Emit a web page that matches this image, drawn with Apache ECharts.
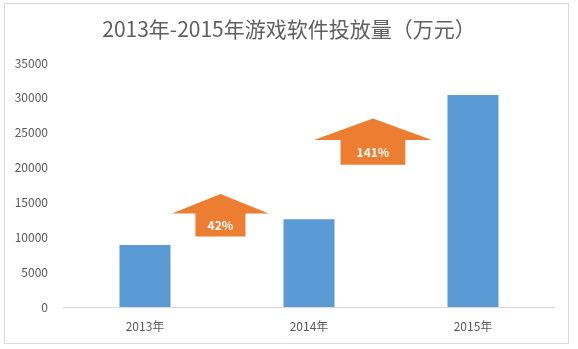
<!DOCTYPE html>
<html>
<head>
<meta charset="utf-8">
<script src="https://cdn.jsdelivr.net/npm/echarts@6/dist/echarts.min.js"></script>
<style>
html,body{margin:0;padding:0;background:#fff;}
#chart{width:578px;height:349px;}
</style>
</head>
<body>
<div id="chart"></div>
<script>
// ---- data ----
var categories = ['2013年', '2014年', '2015年'];
var values = [8900, 12600, 30400];
var yTicks = [0, 5000, 10000, 15000, 20000, 25000, 30000, 35000];
// growth annotations: starting category index, position between categories, bottom / head-base / tip values
var growthLabels = ['42%', '141%'];
var growthFromIndex = [0, 1];
var growthBetween = [0.46, 0.39];
var growthBottom = [10100, 20400];
var growthHeadBase = [13400, 23950];
var growthTip = [16200, 27050];

// ---- style (not data) ----
var arrowHeadFrac = [0.59, 0.72];
var arrowShaftFrac = [0.305, 0.395];
var textColor = '#595959';
var FONT = '"Noto Sans CJK SC", "Noto Sans", sans-serif';

var chart = echarts.init(document.getElementById('chart'));

var arrowData = growthLabels.map(function (lab, i) {
  return {value: [growthFromIndex[i], growthBottom[i], growthHeadBase[i], growthTip[i], growthBetween[i], i], name: lab};
});

chart.setOption({
  backgroundColor: '#ffffff',
  animation: false,
  title: {
    text: '2013年-2015年游戏软件投放量（万元）',
    left: 'center',
    top: 14,
    textStyle: {fontFamily: FONT, fontSize: 21, fontWeight: 'normal', color: '#5f5f5f'}
  },
  graphic: [{
    type: 'rect',
    shape: {x: 4.5, y: 3.5, width: 564, height: 340},
    style: {fill: 'none', stroke: '#d9d9d9', lineWidth: 1},
    silent: true, z: -1
  }],
  grid: {left: 63, right: 23, top: 63, bottom: 42},
  xAxis: {
    type: 'category',
    data: categories,
    axisLine: {lineStyle: {color: '#d9d9d9', width: 1}},
    axisTick: {show: false},
    axisLabel: {color: textColor, fontFamily: FONT, fontSize: 12, margin: 13}
  },
  yAxis: {
    type: 'value',
    min: yTicks[0],
    max: yTicks[yTicks.length - 1],
    interval: yTicks[1] - yTicks[0],
    axisLine: {show: false},
    axisTick: {show: false},
    splitLine: {show: false},
    axisLabel: {
      color: textColor, fontFamily: FONT, fontSize: 12, margin: 15,
      formatter: function (v) { return String(v); }
    }
  },
  series: [{
    type: 'bar',
    data: values,
    barWidth: 51,
    itemStyle: {color: '#5B9BD5'},
    z: 2
  }, {
    type: 'custom',
    data: arrowData,
    z: 3,
    renderItem: function (params, api) {
      var idx = api.value(0);
      var k = api.value(5);
      var pA = api.coord([idx, api.value(1)]);
      var pB = api.coord([idx + 1, api.value(1)]);
      var band = pB[0] - pA[0];
      var cx = pA[0] + band * api.value(4);
      var yBottom = pA[1];
      var yBase = api.coord([idx, api.value(2)])[1];
      var yTip = api.coord([idx, api.value(3)])[1];
      var hw = band * arrowHeadFrac[k] / 2;
      var sw = band * arrowShaftFrac[k] / 2;
      var pts = [
        [cx, yTip], [cx + hw, yBase], [cx + sw, yBase], [cx + sw, yBottom],
        [cx - sw, yBottom], [cx - sw, yBase], [cx - hw, yBase]
      ];
      return {
        type: 'group',
        children: [{
          type: 'polygon',
          shape: {points: pts},
          style: {fill: '#ED7D31'}
        }, {
          type: 'text',
          x: cx, y: (yBase + yBottom) / 2,
          style: {
            text: growthLabels[k],
            fill: '#ffffff',
            font: 'bold 12px ' + FONT,
            align: 'center',
            verticalAlign: 'middle'
          }
        }]
      };
    }
  }]
});
</script>
</body>
</html>
